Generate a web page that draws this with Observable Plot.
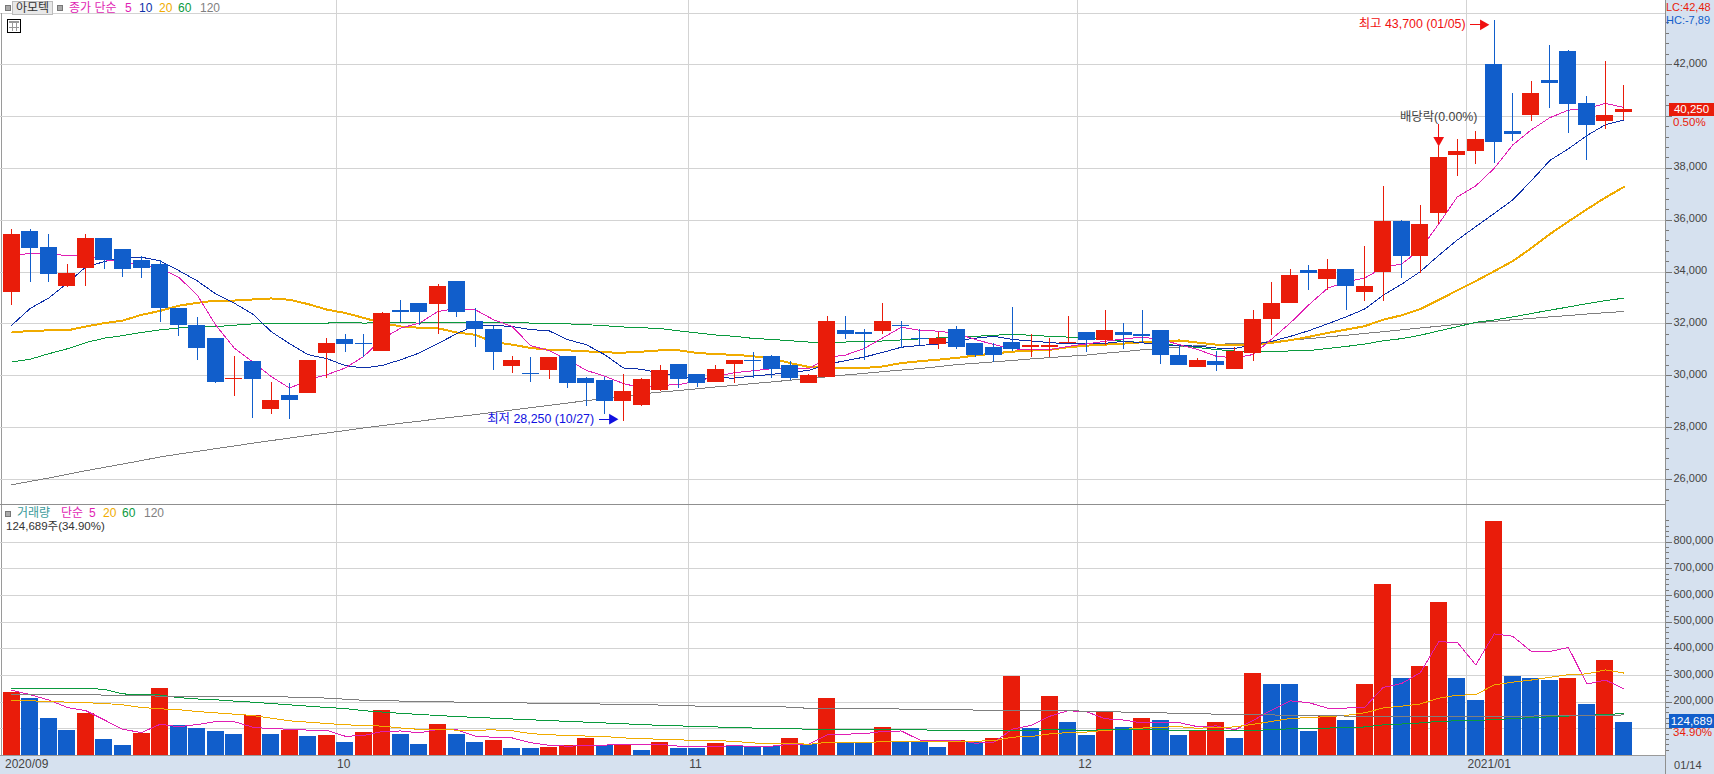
<!DOCTYPE html>
<html lang="ko">
<head>
<meta charset="utf-8">
<script src="https://cdn.jsdelivr.net/npm/d3@7"></script>
<script src="https://cdn.jsdelivr.net/npm/@observablehq/plot@0.6"></script>
<style>
html,body{margin:0;padding:0;background:#fff;}
#page{position:relative;width:1714px;height:774px;overflow:hidden;background:#fff;font-family:"Liberation Sans","Noto Sans CJK KR",sans-serif;font-size:12px;color:#444;}
#page>div.a{position:absolute;white-space:nowrap;}
.sq{position:absolute;width:4px;height:4px;background:#aaa;border:1px solid #777;}
#top,#bottom{position:absolute;left:0;}
#top{top:0;}#bottom{top:505px;}
svg{background:transparent!important;}
</style>
</head>
<body>
<div id="page"></div>
<script>
// ---------- data ----------
const open  = [33200,35550,34950,33450,34150,35300,34850,34450,34300,32600,31950,31450,29850,30550,28700,29250,29300,30850,31400,31250,30950,32500,32800,32750,33650,32100,31800,30350,30100,30200,30750,29900,29800,29000,28850,29450,30450,30050,29750,30450,30600,30750,30400,29700,29950,31750,31650,31700,31950,31450,31200,31800,31250,31100,31300,31100,31100,31250,31650,31350,31650,31600,31750,30800,30300,30550,30250,30850,32150,32800,34050,33700,34100,33200,34000,35950,34600,36250,38500,38650,42000,39400,40050,41400,42500,40500,39800,40150];
const high  = [35650,35650,35450,34300,35450,35300,34850,34600,34450,32600,32250,31450,30750,30550,29750,29700,30600,31450,31600,31600,32450,32900,32800,33500,33650,32600,31900,30750,30700,30700,30750,29950,29950,30050,29900,30400,30450,30050,30400,30600,30900,30800,30550,30050,32300,32300,31800,32800,32100,31800,31650,31900,31250,31250,32650,31600,31450,32300,31650,32500,32000,32500,31750,31150,30650,30950,31100,32500,33600,34100,34250,34500,34100,35000,37300,36000,36550,38850,39100,39400,43700,40900,41350,42750,42550,40750,42100,41200];
const low   = [32700,33600,33600,33400,33450,34100,33800,33750,32050,31500,30600,29700,29200,28350,28500,28300,29300,29900,30900,30700,30950,32050,31950,31600,32250,31100,30200,30100,29750,29850,29500,28800,28500,28250,28800,29400,29500,29550,29750,29700,29900,29900,29800,29700,29950,31400,30600,31600,31050,31150,31000,31000,30700,30500,30950,30700,30700,31250,30900,31150,31000,31300,30450,30400,30300,30150,30250,30550,31550,32800,33300,33300,32500,32850,32850,33750,33950,35850,37700,38150,38200,39050,39800,40300,39350,38300,39500,39850];
const close = [35450,34900,33900,33950,35300,34450,34100,34150,32600,31950,31050,29750,29900,29850,29050,29050,30600,31250,31200,31200,32400,32450,32450,33450,32450,31800,30900,30600,30050,30700,29700,29700,29000,29400,29850,30200,29850,29700,30250,30600,30550,30250,29900,30000,32100,31600,31600,32100,31900,31400,31450,31100,30800,30800,31000,31150,31150,31300,31350,31750,31550,31500,30800,30400,30600,30400,30950,32150,32800,33850,33950,34100,33450,33450,35950,34600,35850,38400,38650,39100,39000,39300,40900,41250,40450,39650,40050,40250];
const ma5   = [34600,34730,34730,34620,34660,34470,34380,34280,34150,33800,33120,31960,31070,30530,29970,29520,29850,30040,30300,30750,31430,31840,32030,32480,32590,32550,32160,31900,31160,30970,30620,30210,29980,29700,29530,29630,29660,29800,29970,30120,30190,30270,30310,30260,30700,30800,31050,31460,31870,31750,31720,31620,31400,31200,31040,31000,31000,31130,31230,31330,31420,31490,31400,31200,31010,30750,30690,30820,31420,32040,32740,33370,33630,33760,34180,34310,34860,35850,36890,37320,38000,38900,39480,39950,40240,40300,40500,40340];
const ma10  = [31950,32600,33000,33570,34200,34400,34560,34570,34430,34060,33660,33160,32800,32380,31700,31230,30810,30660,30390,30300,30400,30620,30880,31240,31620,31940,31940,31900,31780,31730,31390,31200,30810,30300,30250,30090,29990,29900,29920,29910,29990,30050,30140,30200,30450,30580,30720,30900,31100,31170,31220,31360,31450,31520,31400,31340,31280,31230,31230,31250,31330,31270,31200,31160,31140,31070,31050,31200,31330,31520,31740,32000,32270,32570,33100,33530,34010,34640,35230,35750,36260,36780,37520,38300,38750,39260,39680,39860];
const ma20  = [31670,31730,31750,31750,31900,32030,32130,32350,32500,32700,32810,32900,32900,32940,32980,32930,32760,32550,32420,32230,32030,31900,31850,31830,31670,31580,31300,31200,31070,31000,30980,30940,30900,30890,30930,30980,30980,30880,30830,30810,30750,30670,30490,30340,30300,30290,30300,30360,30490,30560,30620,30690,30780,30860,30930,30970,31000,31100,31160,31200,31240,31290,31330,31360,31280,31200,31200,31200,31270,31370,31500,31650,31780,31910,32160,32330,32570,32920,33290,33650,34030,34420,34920,35460,35950,36420,36870,37280];
const ma60  = [30530,30640,30850,31040,31280,31450,31550,31670,31770,31840,31880,31890,31950,32000,32020,32010,32000,32030,32070,32030,32050,32050,32030,32070,32070,32070,32070,32070,32030,32030,32000,31970,31930,31880,31850,31820,31730,31650,31570,31520,31440,31400,31350,31300,31300,31300,31330,31340,31380,31420,31460,31500,31520,31560,31600,31560,31520,31490,31460,31400,31330,31280,31230,31160,31090,31010,30950,30920,30920,30960,30970,31050,31130,31220,31350,31430,31560,31730,31890,32060,32150,32270,32400,32530,32650,32780,32900,32990];
const ma120 = [25800,25930,26060,26200,26340,26470,26600,26730,26870,26980,27080,27190,27290,27400,27500,27600,27700,27790,27890,27990,28080,28170,28250,28340,28420,28500,28590,28680,28770,28860,28950,29040,29120,29210,29300,29370,29430,29500,29570,29630,29700,29760,29830,29900,29960,30030,30090,30160,30220,30280,30350,30430,30480,30535,30590,30650,30700,30750,30800,30870,30930,31000,31060,31110,31160,31210,31240,31280,31310,31380,31430,31500,31560,31630,31700,31770,31840,31910,31980,32040,32100,32160,32210,32270,32320,32380,32430,32480];
// volume, in thousands of shares
const vol   = [235,212,140,95,157,60,37,83,250,112,100,90,80,150,80,95,70,75,50,87,170,80,40,115,80,50,55,28,25,30,38,62,38,40,20,50,27,27,45,35,35,35,62,40,215,45,45,105,48,48,30,55,50,65,295,100,223,125,75,165,105,140,130,75,90,122,65,306,268,265,90,145,130,268,643,290,335,572,287,208,876,295,287,283,290,190,358,124.689];
const vma5  = [245,228,208,180,168,133,98,86,117,108,116,127,127,106,100,99,95,94,72,75,90,92,85,98,97,73,68,66,48,38,35,37,39,42,40,42,35,33,34,37,34,35,42,42,77,80,82,90,92,58,55,57,46,50,99,113,147,168,164,138,133,122,123,123,108,111,96,132,171,205,198,178,178,180,255,270,310,426,425,340,456,447,390,390,405,268,283,250];
const vma20 = [205,205,203,200,198,195,190,180,175,172,165,160,155,150,140,130,125,120,115,113,110,103,98,99,95,95,96,93,82,78,75,73,71,66,63,61,59,56,56,53,47,45,46,42,49,49,48,52,53,54,54,53,54,55,69,71,81,86,88,94,98,103,106,108,102,106,107,117,128,139,142,146,150,160,178,185,193,215,226,228,265,275,283,293,303,306,321,309];
const vma60 = [252,252,252,252,252,248,231,228,227,217,212,209,204,200,195,190,185,180,176,168,163,158,154,150,146,143,140,137,134,131,128,125,122,119,116,113,111,109,107,105,103,101,100,99,99,99,98,98,97,96,95,94,93,93,95,95,96,96,95,96,96,96,96,95,93,93,92,94,97,100,101,103,104,107,115,118,122,128,130,131,135,138,142,145,148,150,154,157];
const vma120= [230,230,230,230,230,226,226,226,222,222,222,222,222,222,222,219,219,215,211,207,207,204,204,204,200,200,200,200,196,196,196,196,192,192,192,189,189,185,185,185,185,185,181,177,177,177,177,177,174,174,174,174,170,170,170,170,168,168,166,164,163,162,160,158,157,155,154,153,152,151,150,149,148,146,148,146,146,146,147,146,147,148,148,149,150,151,151,152];

const priceTicks  = [26000,28000,30000,32000,34000,36000,38000,40000,42000];
const priceLabels = [26000,28000,30000,32000,34000,36000,38000,42000];
const volTicks    = [100000,200000,300000,400000,500000,600000,700000,800000];
const volLabels   = [200000,300000,400000,500000,600000,700000,800000];
const monthAt     = [17.5,36.5,57.5,78.5];
const xTickAt     = [-0.42,17.5,36.5,57.5,78.5];
const xTickText   = ["2020/09","10","11","12","2021/01"];

const colors = {up:"#e91c0a",down:"#115ecb",ma5:"#e01fb4",ma10:"#0d2fa8",ma20:"#f0ab00",ma60:"#0a9a3e",ma120:"#7f7f7f",grid:"#d3d3d3",band:"#d6e1ef",ink:"#444"};
const font = '"Liberation Sans","Noto Sans CJK KR",sans-serif';

// ---------- tables built from the arrays ----------
const candles = open.map((o,i)=>({i,open:o,high:high[i],low:low[i],close:close[i],color:close[i]>=o?colors.up:colors.down}));
const vols = vol.map((v,i)=>({i,v:v*1000,color:(i===0||v>vol[i-1])?colors.up:colors.down}));
const vlines = {ma5:vma5,ma20:vma20,ma60:vma60,ma120:vma120};
const xDomain = [-0.61,89.24];
const halfBody = 0.459;
const crisp = {shapeRendering:"crispEdges"};

const grid = (ticks) => [
  Plot.ruleY(ticks,{stroke:colors.grid,x1:xDomain[0],x2:xDomain[1],...crisp}),
  Plot.ruleX(monthAt,{stroke:colors.grid,...crisp})
];
const drawLine = (arr,name,w) => Plot.line(arr.map((y,i)=>({i,y})),{x:"i",y:"y",stroke:colors[name],strokeWidth:w,...crisp});

const axisRight = (ticks,labels,minor) => [
  Plot.axisY(minor,{anchor:"right",label:null,tickSize:3,tickFormat:()=>"",stroke:"#777",...crisp}),
  Plot.axisY(ticks,{anchor:"right",label:null,tickSize:6,tickFormat:()=>"",stroke:"#777",...crisp}),
  Plot.axisY(labels,{anchor:"right",label:null,tickSize:0,tickPadding:8,dy:-1.5,tickFormat:d3.format(","),fill:colors.ink,fontSize:11,textAnchor:"start"})
];

// ---------- price panel ----------
const priceMinor = d3.range(25200,44000,400);
const topPlot = Plot.plot({
  width:1714,height:505,marginTop:0,marginBottom:0,marginLeft:0,marginRight:49,
  style:{fontFamily:font,background:"transparent",overflow:"visible"},
  x:{domain:xDomain,range:[0,1665],axis:null},
  y:{domain:[24998,44467],range:[505,0],axis:null},
  color:{type:"identity"},
  marks:[
    ...grid(priceTicks),
    drawLine(ma120,"ma120",1),
    drawLine(ma60,"ma60",1),
    drawLine(ma20,"ma20",2),
    drawLine(ma10,"ma10",1),
    drawLine(ma5,"ma5",1),
    Plot.ruleX(candles,{x:"i",y1:"low",y2:"high",stroke:"color",...crisp}),
    Plot.rect(candles,{x1:d=>d.i-halfBody,x2:d=>d.i+halfBody,y1:"open",y2:"close",fill:"color",...crisp}),
    // annotations
    Plot.text(["최고 43,700 (01/05)"],{x:78.45,y:43570,text:d=>d,textAnchor:"end",fill:"#f01010",fontSize:12.4}),
    Plot.ruleY([43530],{x1:78.72,x2:79.3,stroke:"#f01010",strokeWidth:1,...crisp}),
    Plot.dot([43530],{x:79.4,y:d=>d,symbol:"triangle",r:4,rotate:90,fill:"#f01010",stroke:null}),
    Plot.text(["배당락(0.00%)"],{x:77,y:39968,text:d=>d,fill:colors.ink,fontSize:12.4}),
    Plot.ruleX([77],{y1:39147,y2:39687,stroke:"#f01010",...crisp}),
    Plot.dot([77],{x:d=>d,y:39080,symbol:"triangle",r:4,rotate:180,fill:"#f01010",stroke:null}),
    Plot.text(["최저 28,250 (10/27)"],{x:31.42,y:28326,text:d=>d,textAnchor:"end",fill:"#1010e0",fontSize:12.4}),
    Plot.ruleY([28326],{x1:31.72,x2:32.3,stroke:"#1010e0",...crisp}),
    Plot.dot([28326],{x:32.4,y:d=>d,symbol:"triangle",r:4,rotate:90,fill:"#1010e0",stroke:null}),
    ...axisRight(priceTicks,priceLabels,priceMinor)
  ]
});

// ---------- volume panel ----------
const volMinor = d3.range(20000,900000,20000);
const botPlot = Plot.plot({
  width:1714,height:269,marginTop:0,marginBottom:19,marginLeft:0,marginRight:49,
  style:{fontFamily:font,background:"transparent",overflow:"visible"},
  x:{domain:xDomain,range:[0,1665],axis:null},
  y:{domain:[0,937500],range:[250,0],axis:null},
  color:{type:"identity"},
  marks:[
    ...grid(volTicks),
    Plot.rect(vols,{x1:d=>d.i-halfBody,x2:d=>d.i+halfBody,y1:0,y2:"v",fill:"color",...crisp}),
    ...Object.entries(vlines).map(([k,a])=>Plot.line(a.map((y,i)=>({i,y:y*1000})),{x:"i",y:"y",stroke:colors[k],strokeWidth:1,...crisp})),
    ...axisRight(volTicks,volLabels,volMinor),
    Plot.axisX(xTickAt,{anchor:"bottom",label:null,tickSize:0,tickPadding:4,tickFormat:(d,i)=>xTickText[i],textAnchor:"start",dx:1,fill:colors.ink,fontSize:12,stroke:"#777"}),
    Plot.text(["01/14"],{x:89.7,y:0,text:d=>d,dy:10,textAnchor:"start",fill:colors.ink,fontSize:11})
  ]
});

// ---------- frame, legends and tags around the two SVGs ----------
const page = document.getElementById("page");
function box(left,top,w,h,bg){const d=document.createElement("div");d.className="a";d.style.cssText=`left:${left}px;top:${top}px;width:${w}px;height:${h}px;background:${bg};`;page.append(d);return d;}
function label(left,mid,text,color,size){const d=document.createElement("div");d.className="a";d.textContent=text;d.style.cssText=`left:${left}px;top:${mid-8}px;height:16px;line-height:16px;color:${color};font-size:${size||12}px;`;page.append(d);return d;}
function square(left,top){const d=document.createElement("div");d.className="sq";d.style.left=left+"px";d.style.top=top+"px";page.append(d);}

box(1665,0,49,774,colors.band);
box(0,755,1714,19,colors.band);
box(1665,0,1,774,"#8f8f8f");
box(0,13,1665,1,colors.grid);
box(1,13,1,742,"#9a9a9a");

const t=document.createElement("div");t.id="top";t.append(topPlot);page.append(t);
const b=document.createElement("div");b.id="bottom";b.append(botPlot);page.append(b);
box(0,504,1665,1,"#8f8f8f");
box(0,755,1665,1,"#9a9a9a");

// header legend
const legendTop = [[69,"종가 단순",colors.ma5],[125,"5",colors.ma5],[139,"10",colors.ma10],[159,"20",colors.ma20],[178,"60",colors.ma60],[200,"120",colors.ma120]];
const legendBot = [[17,"거래량","#3a9a9a"],[61,"단순",colors.ma5],[89,"5",colors.ma5],[103,"20",colors.ma20],[122,"60",colors.ma60],[144,"120",colors.ma120]];
square(5,5);square(57,5);
const nameBox = box(12,1,41,14,"#e8e8e8");nameBox.style.boxSizing="border-box";nameBox.style.border="1px solid #bbb";nameBox.style.textAlign="center";nameBox.style.lineHeight="12px";nameBox.style.color="#333";nameBox.textContent="아모텍";
legendTop.forEach(([x,s,c])=>label(x,8,s,c));
square(5,511);
legendBot.forEach(([x,s,c])=>label(x,513,s,c));
label(6,526,"124,689주(34.90%)","#333",11.5);

// grid icon
const icon=box(7,19,14,14,"#fff");icon.style.boxSizing="border-box";icon.style.border="1px solid #000";
icon.style.backgroundImage="linear-gradient(#999,#999),linear-gradient(#999,#999),linear-gradient(#999,#999),linear-gradient(#999,#999)";
icon.style.backgroundSize="10px 2px,10px 1px,1px 10px,1px 10px";icon.style.backgroundPosition="1px 1px,1px 7px,4px 1px,8px 1px";icon.style.backgroundRepeat="no-repeat";

// right side tags
label(1666,7,"LC:42,48",colors.up,11);
label(1666,20,"HC:-7,89",colors.down,11);
const tag=box(1669,103,45,13,colors.up);tag.style.color="#fff";tag.style.textAlign="center";tag.style.lineHeight="13px";tag.style.fontSize="11.5px";tag.textContent="40,250";
label(1673,121.5,"0.50%",colors.up,11.5);
const tag2=box(1669,714,45,14,colors.down);tag2.style.color="#fff";tag2.style.textAlign="center";tag2.style.lineHeight="14px";tag2.style.fontSize="11.5px";tag2.textContent="124,689";
label(1673,732,"34.90%",colors.up,11.5);
</script>
</body>
</html>
